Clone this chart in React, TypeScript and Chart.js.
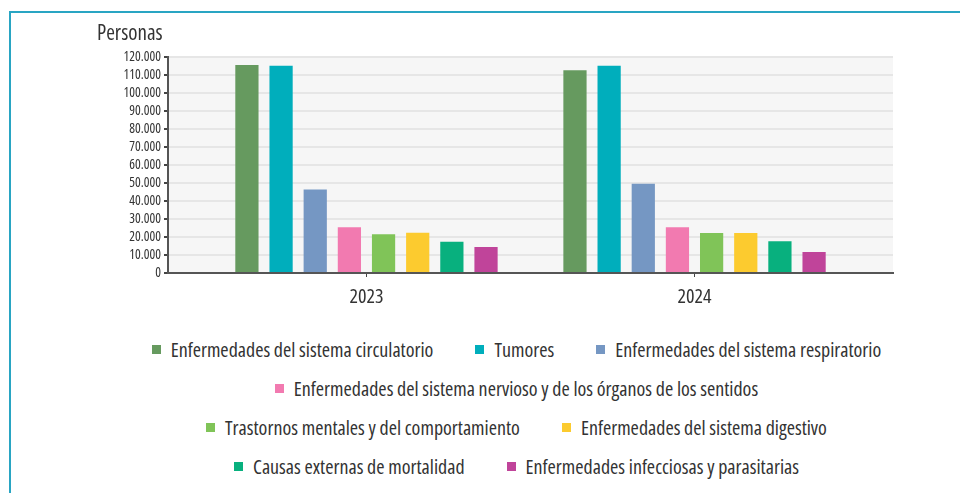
import React, { useEffect, useRef } from 'react';
import { Chart, registerables } from 'chart.js';

Chart.register(...registerables);

const FAMILY = "'Open Sans', 'Roboto', sans-serif";
const STRETCH = 'condensed';

const years = ['2023', '2024'];
const yTitle = 'Personas';

const seriesNames = [
  'Enfermedades del sistema circulatorio',
  'Tumores',
  'Enfermedades del sistema respiratorio',
  'Enfermedades del sistema nervioso y de los órganos de los sentidos',
  'Trastornos mentales y del comportamiento',
  'Enfermedades del sistema digestivo',
  'Causas externas de mortalidad',
  'Enfermedades infecciosas y parasitarias',
];

const seriesColors = ['#669a5f', '#00aebc', '#7597c3', '#f27ab0', '#80c458', '#fccb2f', '#08b07e', '#c0449a'];

const circulatorio = [115600, 112800];
const tumores = [115200, 115200];
const respiratorio = [46500, 49600];
const nervioso = [25400, 25400];
const mentales = [21600, 22200];
const digestivo = [22400, 22200];
const externas = [17400, 17600];
const infecciosas = [14400, 11700];

const seriesValues = [circulatorio, tumores, respiratorio, nervioso, mentales, digestivo, externas, infecciosas];

const yMin = 0;
const yMax = 120000;
const yStep = 10000;

const fmt = (v: number) => String(v).replace(/\B(?=(\d{3})+(?!\d))/g, '.');

const plotBackground = {
  id: 'plotBackground',
  beforeDraw(chart: any) {
    const { ctx, chartArea } = chart;
    ctx.save();
    ctx.fillStyle = '#f6f6f6';
    ctx.fillRect(chartArea.left, chartArea.top, chartArea.right - chartArea.left, chartArea.bottom - chartArea.top);
    ctx.restore();
  },
};

export default function App() {
  const canvasRef = useRef<HTMLCanvasElement | null>(null);

  useEffect(() => {
    if (!canvasRef.current) return;
    const chart = new Chart(canvasRef.current, {
      type: 'bar',
      data: {
        datasets: seriesNames.map((name, i) => ({
          label: name,
          data: years.map((yr, j) => ({ x: Number(yr), y: seriesValues[i][j] })),
          backgroundColor: seriesColors[i],
          borderWidth: 0,
          categoryPercentage: 0.833,
          barPercentage: 0.68,
        })),
      },
      options: {
        animation: false,
        responsive: true,
        maintainAspectRatio: false,
        layout: { padding: { top: 0, left: 0, right: 44, bottom: 0 } },
        plugins: {
          tooltip: { enabled: false },
          legend: { display: false },
          title: {
            display: true,
            text: yTitle,
            align: 'start',
            color: '#333333',
            font: { family: FAMILY, size: 21, weight: STRETCH },
            padding: { top: 8, bottom: 11 },
          },
        },
        scales: {
          x: {
            type: 'linear',
            offset: false,
            min: Number(years[0]) - 0.605,
            max: Number(years[years.length - 1]) + 0.605,
            afterBuildTicks: (scale: any) => {
              scale.ticks = years.map((y) => ({ value: Number(y) }));
            },
            afterFit: (scale: any) => {
              scale.height = 40;
            },
            ticks: {
              color: '#333333',
              font: { family: FAMILY, size: 20, weight: STRETCH },
              padding: 8,
              maxRotation: 0,
              autoSkip: false,
              callback: (v: any) => String(v),
            },
            grid: {
              offset: false,
              drawOnChartArea: false,
              tickColor: '#444444',
              tickLength: 4,
            },
            border: { color: '#555555', width: 2 },
          },
          y: {
            min: yMin,
            max: yMax,
            afterFit: (scale: any) => {
              scale.width = 71;
            },
            ticks: {
              stepSize: yStep,
              autoSkip: false,
              color: '#333333',
              font: { family: FAMILY, size: 13.5, weight: STRETCH },
              padding: 3,
              callback: (v: any) => fmt(Number(v)),
            },
            grid: {
              color: '#e6e6e6',
              lineWidth: 2,
              tickColor: '#444444',
              tickLength: 4,
            },
            border: { color: '#555555', width: 2 },
          },
        },
      },
      plugins: [plotBackground],
    } as any);
    return () => chart.destroy();
  }, []);

  return (
    <div style={{ position: 'fixed', inset: 0, overflow: 'hidden', background: '#ffffff' }}>
      <div
        style={{
          position: 'absolute',
          left: 9,
          top: 11,
          width: 2000,
          height: 2000,
          borderLeft: '2px solid #29a5c3',
          borderTop: '2px solid #29a5c3',
        }}
      />
      <div style={{ position: 'absolute', left: 97, top: 13, width: 840, height: 300 }}>
        <canvas ref={canvasRef} />
      </div>
      <div
        style={{
          position: 'absolute',
          left: 144,
          top: 329.5,
          width: 745,
          display: 'flex',
          flexWrap: 'wrap',
          justifyContent: 'center',
          columnGap: 42,
          rowGap: 0,
          fontFamily: FAMILY,
          fontStretch: 'condensed',
          fontSize: 20,
          color: '#333333',
        }}
      >
        {seriesNames.map((name, i) => (
          <div key={name} style={{ display: 'flex', alignItems: 'center', height: 39, whiteSpace: 'nowrap' }}>
            <span
              style={{
                display: 'inline-block',
                width: 9,
                height: 9,
                marginRight: 10,
                background: seriesColors[i],
              }}
            />
            <span>{name}</span>
          </div>
        ))}
      </div>
    </div>
  );
}
